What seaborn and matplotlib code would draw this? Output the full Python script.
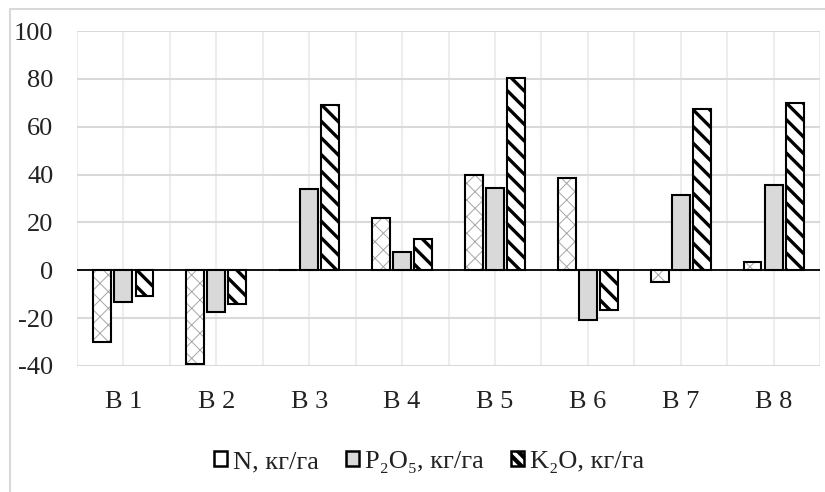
import numpy as np
import pandas as pd
import matplotlib
matplotlib.use("Agg")
import matplotlib.pyplot as plt
from matplotlib.patches import Patch, Rectangle
import seaborn as sns

# data
variants = ["В 1", "В 2", "В 3", "В 4", "В 5", "В 6", "В 7", "В 8"]
series = ["N, кг/га", "P₂O₅, кг/га", "K₂O, кг/га"]
n_vals = [-30, -39.3, 0, 21.8, 40, 38.5, -5, 3.3]
p_vals = [-13.3, -17.4, 33.8, 7.5, 34.2, -20.9, 31.6, 35.5]
k_vals = [-10.8, -14, 69.2, 13, 80.4, -16.4, 67.6, 70]
y_ticks = [-40, -20, 0, 20, 40, 60, 80, 100]

df = pd.DataFrame({
    "variant": variants * 3,
    "series": [s for s in series for _ in variants],
    "value": n_vals + p_vals + k_vals,
})

FS = 19
sns.set_theme(style="white")
plt.rcParams["font.family"] = ["Liberation Serif", "DejaVu Serif"]
plt.rcParams["font.size"] = FS
plt.rcParams["axes.unicode_minus"] = False

fig = plt.figure(figsize=(8.25, 4.92), dpi=100)
ax = fig.add_axes([77 / 825, 1 - 366 / 492, (820 - 77) / 825, (366 - 31) / 492])

sns.barplot(data=df, x="variant", y="value", hue="series", order=variants,
            hue_order=series, palette=["white", "#d9d9d9", "white"],
            width=0.68, gap=0.15, linewidth=1.5, edgecolor="black",
            legend=False, ax=ax, zorder=3)

def set_hlw(patch, lw):
    if hasattr(patch, "set_hatch_linewidth"):
        patch.set_hatch_linewidth(lw)

plt.rcParams["hatch.linewidth"] = 0.7
# N bars: grey lattice, black outline on top
for bar in ax.containers[0]:
    bar.set_hatch("xx")
    bar.set_edgecolor("#a6a6a6")
    bar.set_linewidth(0)
    set_hlw(bar, 0.7)
    ax.add_patch(Rectangle(bar.get_xy(), bar.get_width(), bar.get_height(),
                           fill=False, ec="black", lw=1.5, zorder=4))
# K bars: heavy black diagonal stripes
for bar in ax.containers[2]:
    bar.set_hatch("\\\\")
    set_hlw(bar, 2.4)

ax.axhline(0, color="black", lw=1.3, zorder=5)

ax.set_ylim(-40, 100)
ax.set_xlim(-0.5, len(variants) - 0.5)
ax.set_yticks(y_ticks)
ax.set_xticks(np.arange(-0.5, len(variants), 0.5), minor=True)
ax.set_axisbelow(True)
ax.yaxis.grid(True, color="#d9d9d9", lw=1.5)
ax.xaxis.grid(True, which="both", color="#ededed", lw=1.5)
for s in ax.spines.values():
    s.set_visible(False)
ax.tick_params(axis="both", which="both", length=0, colors="#222222", labelsize=FS)
ax.tick_params(axis="y", pad=17)
ax.tick_params(axis="x", pad=18)
ax.set_xlabel("")
ax.set_ylabel("")

handles = [
    Patch(facecolor="white", edgecolor="black", lw=1.8, label=series[0]),
    Patch(facecolor="#d9d9d9", edgecolor="black", lw=1.8, label=series[1]),
    Patch(facecolor="white", edgecolor="black", lw=1.8, hatch="\\\\\\", label=series[2]),
]
leg = fig.legend(handles=handles, loc="center", bbox_to_anchor=(429 / 825, 1 - 462 / 492),
                 ncol=3, frameon=False, fontsize=FS, handlelength=0.48, handleheight=0.48,
                 handletextpad=0.22, columnspacing=1.05, labelcolor="#222222")
set_hlw(leg.get_patches()[2], 3.0)

# outer chart frame (cropped at right and bottom)
top = 1 - 9 / 492
fig.patches.append(Rectangle((10 / 825, -0.1), 2, top + 0.1, transform=fig.transFigure,
                             fill=False, ec="#d9d9d9", lw=1.5, zorder=0))

fig.savefig("out.png", dpi=100)
